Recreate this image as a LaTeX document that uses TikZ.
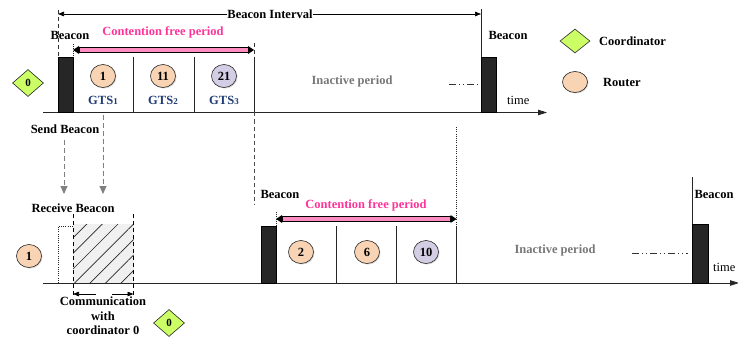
\documentclass[tikz,border=0pt]{standalone}
\usepackage{fontspec}
\setmainfont{Liberation Serif}
\usetikzlibrary{arrows.meta,shapes.geometric,patterns.meta,shadows}
\definecolor{coordfill}{HTML}{CCFF66}
\definecolor{routerfill}{HTML}{F8D3B4}
\definecolor{gtsthree}{HTML}{D3CEE4}
\definecolor{cfpink}{HTML}{FF3399}
\definecolor{cfbar}{HTML}{FF8CC0}
\definecolor{gtsblue}{HTML}{1F3C74}
\definecolor{inact}{HTML}{777777}
\definecolor{blockc}{HTML}{262626}
\definecolor{hatchbg}{HTML}{F0F0F0}
\definecolor{sendgrey}{HTML}{808080}
\begin{document}
\begin{tikzpicture}[x=1pt,y=-1pt,
  lbl/.style={font=\fontsize{12.5}{14}\selectfont\bfseries, inner sep=0pt},
  plain/.style={font=\fontsize{12.5}{14}\selectfont, inner sep=0pt},
  pinklbl/.style={lbl, text=cfpink},
  greylbl/.style={lbl, text=inact},
  gtslbl/.style={lbl, text=gtsblue},
  router/.style={ellipse, draw=black!85, line width=0.6pt, fill=routerfill,
    minimum width=25pt, minimum height=23pt, inner sep=0pt,
    font=\fontsize{12.5}{14}\selectfont\bfseries,
    drop shadow={shadow xshift=1pt, shadow yshift=-1pt, opacity=0.25, fill=black!60}},
  gtsthree/.style={router, fill=gtsthree},
  coord/.style={diamond, draw=black!85, line width=0.6pt, fill=coordfill,
    minimum width=31pt, minimum height=27pt, aspect=1.15, inner sep=0pt,
    font=\fontsize{11}{12}\selectfont\bfseries},
  block/.style={draw=black, line width=0.5pt, fill=blockc},
  axisline/.style={line width=0.8pt, draw=black!85, -{Triangle[length=9pt,width=5.5pt]}},
  slotline/.style={line width=0.8pt, draw=black!85},
  guide/.style={line width=0.7pt, draw=black!80, dash pattern=on 4pt off 3pt},
  dotguide/.style={line width=0.7pt, draw=black!85, dash pattern=on 1pt off 1.2pt},
  sendarrow/.style={line width=0.9pt, draw=sendgrey, dash pattern=on 5pt off 3pt,
    -{Triangle[length=8pt,width=7pt,fill=sendgrey]}},
  smallarrow/.style={line width=0.7pt, draw=black, -{Triangle[length=6pt,width=4.5pt]}},
  dashdot/.style={line width=0.8pt, draw=black!80,
    dash pattern=on 7pt off 3pt on 1pt off 3pt on 1pt off 3pt},
  cfptip/.style={fill=black}
]
\useasboundingbox (0,0) rectangle (738,342);

%% ---------------- Coordinator 0 time line ----------------
\coordinate (axA) at (43,112.5);
\coordinate (axB) at (547,112.5);
\draw[axisline] (axA) -- (axB);

% beacon interval
\coordinate (biL) at (58,14);
\coordinate (biR) at (481,14);
\node[lbl] (bitext) at (270,14) {Beacon Interval};
\draw[smallarrow] (bitext.west) -- (biL);
\draw[smallarrow] (bitext.east) -- (biR);
\draw[guide] (58,10) -- (58,57);
\draw[slotline] (481,9) -- (481,112.5);

% beacon frames
\draw[block] (58,57) rectangle (73,112.5);
\draw[block] (481,57) rectangle (496,112.5);
\node[lbl] (bc1) at (70,35) {Beacon};
\node[lbl] (bc2) at (508,35) {Beacon};

% contention free period
\node[pinklbl] (cfp1) at (163,32) {Contention free period};
\draw[dotguide] (73,44) -- (73,57);
\draw[guide] (254,43) -- (254,57);
\coordinate (cfA) at (73,50);
\coordinate (cfB) at (254,50);
\draw[fill=cfbar, line width=0.6pt] (79,47.7) rectangle (248,52.3);
\fill[cfptip] (cfA) -- ++(6,-4) -- ++(0,8) -- cycle;
\fill[cfptip] (cfB) -- ++(-6,-4) -- ++(0,8) -- cycle;

% GTS slots
\draw[slotline] (133.5,57) -- (133.5,112.5);
\draw[slotline] (194,57) -- (194,112.5);
\draw[slotline] (254,57) -- (254,112.5);
\node[router] (r1) at (103,76) {1};
\node[router] (r11) at (163,76) {11};
\node[gtsthree] (r21) at (224,76) {21};
\node[gtslbl] (g1) at (103,100) {GTS{\fontsize{9}{10}\selectfont 1}};
\node[gtslbl] (g2) at (163,100) {GTS{\fontsize{9}{10}\selectfont 2}};
\node[gtslbl] (g3) at (224,100) {GTS{\fontsize{9}{10}\selectfont 3}};

\node[coord] (c0) at (28,83) {0};
\node[greylbl] (ina1) at (352,81) {Inactive period};
\draw[dashdot] (449,84) -- (481,84);
\node[plain, anchor=west] (time1) at (507,100) {time};

% legend
\node[coord, minimum width=30pt, minimum height=24pt] (lgc) at (575,41) {};
\node[lbl, anchor=west] (lgct) at (599,41) {Coordinator};
\node[router, minimum height=21pt] (lgr) at (575,82) {};
\node[lbl, anchor=west] (lgrt) at (603,82) {Router};

%% ---------------- beacon hand-over ----------------
\node[lbl] (send) at (65,129) {Send Beacon};
\coordinate (s1a) at (64,140);
\coordinate (s1b) at (64,194);
\coordinate (s2a) at (103,115);
\coordinate (s2b) at (103,194);
\draw[sendarrow] (s1a) -- (s1b);
\draw[sendarrow] (s2a) -- (s2b);
\node[lbl] (recv) at (73,208) {Receive Beacon};
\draw[guide, draw=black!70] (254,112.5) -- (254,205);
\draw[dotguide] (456.5,127) -- (456.5,226);

%% ---------------- Router 1 time line ----------------
\coordinate (bxA) at (43,283);
\coordinate (bxB) at (739,283);
\draw[axisline] (bxA) -- (bxB);
\node[router] (rr1) at (29,256) {1};

% waiting, then exchange with coordinator 0
\draw[dotguide] (58,283) -- (58,226.5) -- (73,226.5);
\fill[hatchbg] (73,224) rectangle (133.5,283);
\fill[pattern={Lines[angle=45,distance=11pt,line width=0.7pt]}, pattern color=black!85]
  (73,224) rectangle (133.5,283);
\draw[guide, draw=black] (73,214) -- (73,297);
\draw[guide, draw=black] (133.5,214) -- (133.5,297);
\coordinate (comL) at (73,294);
\coordinate (comR) at (133.5,294);
\coordinate (comLm) at (96,294);
\coordinate (comRm) at (112,294);
\draw[smallarrow] (comLm) -- (comL);
\draw[smallarrow] (comRm) -- (comR);
\node[lbl, align=center, font=\fontsize{12.5}{14.5}\selectfont\bfseries, anchor=north]
  (comtext) at (103,297) {Communication\\with\\coordinator 0};
\node[coord] (c0b) at (169,323) {0};

% router 1 beacon and its GTS slots
\node[lbl] (bc3) at (280,194) {Beacon};
\draw[block] (261,226) rectangle (276,283);
\node[pinklbl] (cfp2) at (366,205) {Contention free period};
\draw[dotguide] (276,212) -- (276,226);
\coordinate (cfC) at (276,219);
\coordinate (cfD) at (456.5,219);
\draw[fill=cfbar, line width=0.6pt] (282,216.7) rectangle (450.5,221.3);
\fill[cfptip] (cfC) -- ++(6,-4) -- ++(0,8) -- cycle;
\fill[cfptip] (cfD) -- ++(-6,-4) -- ++(0,8) -- cycle;
\draw[slotline] (336,226) -- (336,283);
\draw[slotline] (396,226) -- (396,283);
\draw[slotline] (456.5,226) -- (456.5,283);
\node[router] (r2) at (301,252) {2};
\node[router] (r6) at (367,252) {6};
\node[gtsthree] (r10) at (426,252) {10};

\node[greylbl] (ina2) at (555,250) {Inactive period};
\draw[dashdot] (632,253) -- (688,253);
\draw[slotline] (692,177) -- (692,283);
\draw[block] (692,224) rectangle (708,283);
\node[lbl] (bc4) at (714,194) {Beacon};
\node[plain, anchor=west] (time2) at (713,267) {time};
\end{tikzpicture}
\end{document}
